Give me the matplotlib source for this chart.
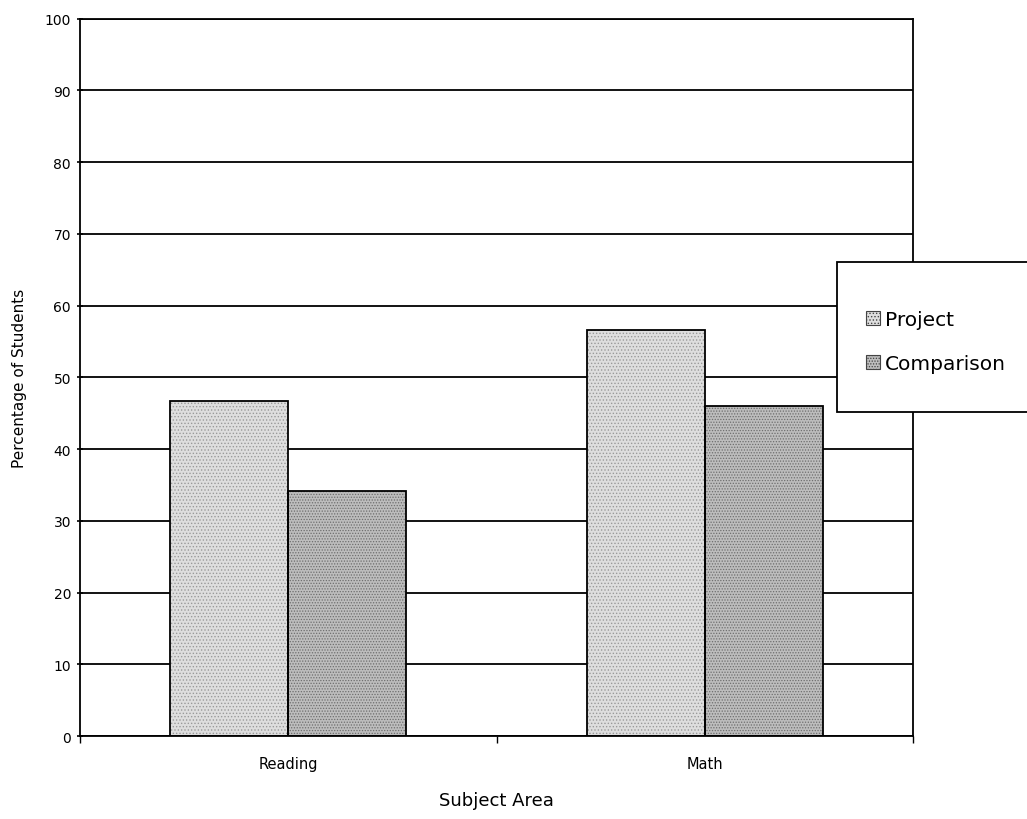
import numpy as np
import matplotlib.pyplot as plt
from matplotlib.patches import Patch, Rectangle

subjects = ['Reading', 'Math']
series = ['Project', 'Comparison']
project = [46.7, 56.6]
comparison = [34.2, 46.0]
y_ticks = [0, 10, 20, 30, 40, 50, 60, 70, 80, 90, 100]

plt.rcParams['font.family'] = ['DejaVu Sans']
plt.rcParams['hatch.linewidth'] = 0.6

W, H = 1027, 820
fig = plt.figure(figsize=(W / 100, H / 100), dpi=100)
ax = fig.add_axes([0.078, 0.101, 0.811, 0.875])

x = np.arange(len(subjects))
w = 0.283

styles = [('#dedede', '#9a9a9a', '.....'), ('#bdbdbd', '#6e6e6e', '......')]

# stippled fills, outlined separately so the dots stay grey
for off, vals, (face, dots, hatch) in zip([-w / 2, w / 2], [project, comparison], styles):
    ax.bar(x + off, vals, w, color=face, edgecolor=dots, hatch=hatch, linewidth=0, zorder=2)
    ax.bar(x + off, vals, w, fill=False, edgecolor='black', linewidth=1.3, zorder=3)

ax.set_xlim(-0.5, 1.5)
ax.set_ylim(0, 100)
ax.set_yticks(y_ticks)
ax.tick_params(axis='y', labelsize=10, length=5, width=1.2, direction='inout', pad=4)
ax.set_xticks([-0.5, 0.5, 1.5])
ax.set_xticklabels([])
ax.set_xticks(x, minor=True)
ax.set_xticklabels(subjects, minor=True, fontsize=10.5)
ax.tick_params(axis='x', which='major', length=5, width=1.0, direction='out')
ax.tick_params(axis='x', which='minor', length=0, pad=14)

ax.yaxis.grid(True, color='black', linewidth=1.3)
ax.set_axisbelow(True)
for s in ax.spines.values():
    s.set_linewidth(1.3)

ax.set_ylabel('Percentage of Students', fontsize=11, labelpad=13)
ax.set_xlabel('Subject Area', fontsize=13, labelpad=15)

# legend box runs off the right edge of the figure
fig.patches.append(Rectangle((837 / W, (H - 413) / H), 200 / W, 150 / H,
                             transform=fig.transFigure, facecolor='white',
                             edgecolor='black', linewidth=1.3, zorder=5))

handles = [Patch(facecolor=face, edgecolor='#444444', hatch=hatch, linewidth=0.8)
           for face, dots, hatch in styles]
leg = fig.legend(handles, series,
                 loc='upper left', bbox_to_anchor=(866 / W, (H - 311) / H),
                 fontsize=14.5, frameon=False, borderpad=0, handlelength=0.7,
                 handleheight=0.7, handletextpad=0.25, labelspacing=1.25, borderaxespad=0)
leg.set_zorder(6)

fig.savefig('out.png', dpi=100)
